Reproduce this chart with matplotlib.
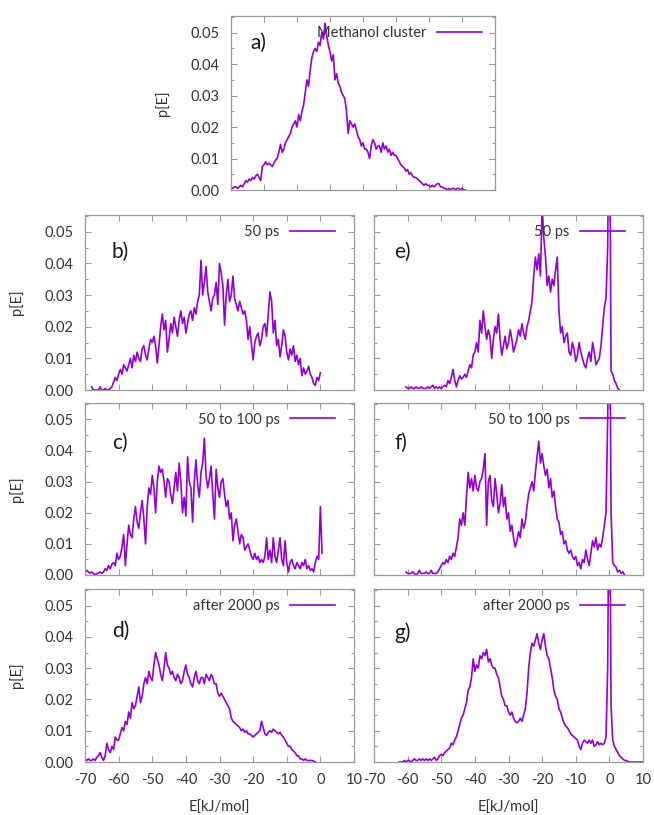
import numpy as np
import matplotlib
matplotlib.use("Agg")
import matplotlib.pyplot as plt
from matplotlib.ticker import MultipleLocator, FormatStrFormatter

plt.rcParams['font.family'] = ['Lato', 'DejaVu Sans']
plt.rcParams['axes.unicode_minus'] = False

# ---------------- data (p[E] in units of 1e-3, grid step 0.5 kJ/mol) ----------------
x_step = 0.5
x_limits = (-70, 10)
y_limits = (0, 0.0553)

labels = ["a)", "b)", "c)", "d)", "e)", "f)", "g)"]
legend_texts = ["Methanol cluster", "50 ps", "50 to 100 ps", "after 2000 ps",
                "50 ps", "50 to 100 ps", "after 2000 ps"]

start_a = -70.0
p_a = [1, 0.5, 1, 1, 0.5, 1, 1.5, 1, 2, 3,
       2.5, 3.5, 3, 4, 3.5, 4.5, 5, 4, 3, 7.5,
       8, 9, 8, 8.5, 8, 7.5, 8.5, 9.5, 10, 12,
       14.5, 12, 13, 15, 16, 17, 18, 20, 21, 22,
       20, 24, 22, 25, 27, 31, 35, 33, 38, 42,
       44, 45, 44, 47, 46, 50, 48, 53, 49, 46,
       44, 41, 43, 35, 37, 34, 33, 31, 30, 29,
       25, 18, 22, 21, 20, 21, 19, 17, 16, 14,
       15, 13, 13, 12, 10, 14, 16, 15, 13, 14,
       14, 12, 15, 13, 14, 12, 13, 11, 12, 11,
       11, 10, 9, 8, 7.5, 7, 6, 6.5, 5, 5.5,
       4.5, 4, 4, 3.5, 3, 2.5, 2, 1.5, 2, 1.5,
       1.5, 1, 1.5, 1, 1.5, 2, 2, 1, 1, 0.5,
       0.5, 0, 0.5, 0, 0.5, 0.5, 0, 0.5, 0.5, 0,
       0.5, 0, 0]

start_b = -68.0
p_b = [1, 0, 0, 0, 0, 1, 0, 0, 0.5, 0,
       0, 0.5, 1, 2.5, 4, 3, 5, 6.5, 5, 8,
       7, 6, 8, 10, 7, 11, 9, 12, 10, 9,
       13, 14, 11, 9.5, 13, 16, 15, 17, 14, 8.5,
       14, 20, 24, 19, 22, 12, 16, 21, 18, 23,
       20, 17, 22, 25, 21, 23, 18, 21, 24, 25,
       22, 26, 24, 28, 30, 41, 30, 34, 39, 31,
       28, 25, 29, 30, 34, 27, 40, 37, 33, 20.5,
       30, 35, 28, 30, 36, 29, 27, 25, 28, 26,
       24, 25, 22, 16, 20, 14.5, 9.5, 15, 17, 18,
       14, 16, 20, 21, 17, 24, 31, 28, 18, 22,
       14, 16, 10.5, 14, 19, 17, 12, 9.5, 13, 11,
       14, 9, 11, 8, 10, 4.5, 7, 5, 6, 7.5,
       5, 4, 2, 1.5, 4, 3, 5.5]

start_c = -70.0
p_c = [1, 1.5, 1, 0.5, 1, 0.5, 0, 0.5, 0.5, 1,
       0.5, 1, 2, 1.5, 3, 2, 3.5, 4, 3, 7,
       5, 6, 9, 13, 3, 10, 16, 13, 12, 18,
       22, 17, 15, 20, 24, 18, 10, 22, 28, 26,
       32, 28, 20, 30, 35, 33, 34, 30, 25, 31,
       30, 26, 23, 28, 33, 27, 36, 30, 20, 25,
       19, 38, 30, 28, 17, 30, 37, 29, 25, 33,
       36, 44, 32, 28, 31, 35, 26, 18, 34, 28,
       25, 30, 31, 26, 22, 24, 18, 20, 11, 16,
       18, 14, 10, 13, 12, 8, 9, 10, 8, 6,
       5, 7, 5, 6, 4, 5, 4, 6, 12, 5,
       8, 4, 12, 6, 4, 8, 12, 5, 3, 11,
       4, 1, 4, 5, 3, 2, 4, 3, 2, 4,
       3, 5, 2, 3, 1.5, 2, 1, 4, 6, 5,
       22, 7]

start_d = -70.0
p_d = [1, 0.5, 1, 0.5, 0.5, 1, 0.5, 1.5, 2, 3,
       1.5, 0.5, 2, 6, 4, 3, 5, 4, 8, 7,
       7, 9, 11, 10, 13, 12, 16, 14, 19, 17,
       18, 21, 24, 19, 21, 25, 27, 25, 29, 27,
       26, 31, 35, 33, 31, 28, 26, 30, 35, 31,
       30, 28, 29, 27, 26, 28, 27, 25, 26, 29,
       31, 28, 27, 25, 24, 27, 29, 26, 25, 27,
       27, 25, 28, 27, 26, 28, 27, 25, 25, 22,
       21, 22, 21, 20, 19, 18, 17, 14, 13, 12.5,
       12, 11.5, 11, 10, 10.5, 9.5, 10, 9, 9, 8.5,
       8, 8.5, 9, 9.5, 10, 13, 11, 9, 8.5, 9.5,
       10, 9.5, 10.5, 10, 9.5, 9, 9.5, 8.5, 8, 7,
       6, 5, 5, 4, 3.5, 3, 2, 2, 1, 1,
       0.5, 1, 0.5, 0.5, 0.5, 0.5, 0.3, 0]

start_e = -60.5
p_e = [1, 0.5, 0.5, 1, 0.5, 0.5, 1, 0.5, 0.5, 1,
       0.5, 0.5, 0.5, 1, 0.5, 1, 1.5, 0.5, 1, 0.5,
       1, 0.5, 1, 1.5, 1, 3, 2, 4, 6.5, 3,
       1, 3, 4.5, 3.5, 4, 5, 4, 6, 8, 7,
       11, 12, 15, 12, 22, 18, 25, 20, 16, 19,
       17, 10, 16, 20, 18, 24, 16, 11, 14, 17,
       13, 15, 19, 16, 12, 14, 16, 19, 17, 21,
       18, 16, 20, 22, 25, 28, 36, 42, 38, 43,
       36, 58, 48, 42, 33, 36, 31, 35, 33, 38,
       42, 25, 18, 20, 15, 17, 18, 12, 11, 15,
       13, 9, 11, 15, 12, 10, 8, 7, 10, 12,
       9, 15, 12, 8, 9, 10, 14, 20, 26, 29,
       45, 110, 6, 5, 3, 2, 0.5, 0]

start_f = -60.5
p_f = [1, 0.5, 0.5, 0.5, 1, 0.5, 0, 0.5, 1.5, 0.5,
       0.5, 0.5, 1, 0.5, 0.5, 1.5, 0.5, 0.5, 0.5, 1,
       2, 3, 4, 3.5, 5, 4, 6, 5, 7, 6,
       9, 12, 18, 16, 20, 16, 25, 33, 28, 31,
       27, 32, 28, 27, 30, 31, 34, 39, 16, 30,
       32, 24, 22, 31, 26, 20, 23, 29, 22, 25,
       18, 20, 14, 16, 12, 9, 11, 14, 12, 18,
       15, 17, 22, 26, 28, 30, 27, 33, 38, 43,
       36, 39, 35, 32, 34, 28, 31, 25, 27, 22,
       18, 17, 13, 14, 10, 11, 8, 7, 8, 6,
       5, 6, 3, 4, 2, 5, 4, 8, 5, 3,
       7, 11, 9, 12, 8, 10, 9, 12, 16, 20,
       50, 110, 20, 4, 3, 2.5, 1, 1.5, 0.5, 1, 0]

start_g = -62.5
p_g = [0, 0, 0, 0.5, 0, 0.5, 0.5, 0, 0.5, 1,
       0.5, 0.5, 1, 0.5, 1, 0.5, 1, 0.5, 1, 0.5,
       1, 1.5, 0.5, 1, 2, 2.5, 2, 3, 3.5, 4,
       4.5, 6, 5.5, 7, 8, 10, 12, 14, 15, 17,
       19, 23, 24, 27, 33, 29, 31, 30, 34, 33,
       35, 34, 36, 32, 33, 31, 30, 30, 28, 27,
       24, 21, 20, 18, 18, 16, 15, 16, 14, 13,
       12.5, 13, 14, 13, 15, 17, 22, 30, 35, 38,
       37, 39, 41, 38, 36, 39, 41, 37, 34, 33,
       30, 27, 23, 21, 20, 17, 16, 14, 12.5, 11.5,
       11, 10, 9, 8.5, 8, 7.5, 7, 5, 4, 6,
       7, 6.5, 6, 7, 6, 7, 5, 5.5, 6.5, 5.5,
       6, 5.5, 6, 8, 30, 110, 18, 7, 5, 4,
       3, 2, 1.5, 1, 0.5, 0.5, 0.2, 0, 0, 0,
       0, 0, 0, 0, 0, 0]

series = [(start_a, p_a), (start_b, p_b), (start_c, p_c), (start_d, p_d),
          (start_e, p_e), (start_f, p_f), (start_g, p_g)]

# ---------------- layout ----------------
W, H = 654, 815
fig = plt.figure(figsize=(W / 100, H / 100), dpi=100)

# panel frames in pixels: left, top, right, bottom
frames = [(231, 16, 495, 190),
          (85, 215, 354, 390), (85, 403, 354, 575), (85, 589, 354, 762),
          (374, 215, 643, 390), (374, 403, 643, 575), (374, 589, 643, 762)]
label_y = [0.845, 0.79, 0.77, 0.76, 0.79, 0.77, 0.745]
legend_gap = [13, 19, 19, 19, 18, 18, 18]

line_color = "#9400D3"
spine_color = "#9a9a9a"
text_color = "#333333"
fs = 10.5

for i, ((l, t, r, b), (x0, p)) in enumerate(zip(frames, series)):
    w_px, h_px = r - l, b - t
    ax = fig.add_axes([l / W, 1 - b / H, w_px / W, h_px / H])
    y = np.array(p) * 1e-3
    x = x0 + x_step * np.arange(len(y))
    ax.plot(x, y, color=line_color, lw=1.2, label=legend_texts[i])
    ax.set_xlim(*x_limits)
    ax.set_ylim(*y_limits)
    ax.xaxis.set_major_locator(MultipleLocator(10))
    ax.yaxis.set_major_locator(MultipleLocator(0.01))
    ax.yaxis.set_minor_locator(MultipleLocator(0.005))
    ax.yaxis.set_major_formatter(FormatStrFormatter('%.2f'))
    ax.tick_params(which='both', direction='in', top=True, right=True,
                   color=spine_color, width=0.8, labelcolor=text_color,
                   labelsize=fs, pad=8)
    ax.tick_params(which='major', length=4)
    ax.tick_params(which='minor', length=2.5)
    for s in ax.spines.values():
        s.set_color(spine_color)
        s.set_linewidth(0.9)

    left_col = i in (0, 1, 2, 3)
    bottom_row = i in (3, 6)
    ax.tick_params(labelbottom=bottom_row, labelleft=left_col)
    if left_col:
        ax.set_ylabel("p[E]", fontsize=fs, color=text_color)
        ax.yaxis.set_label_coords(-61 / w_px, 0.5)
    if bottom_row:
        ax.set_xlabel("E[kJ/mol]", fontsize=fs, color=text_color)
        ax.xaxis.set_label_coords(0.5, -39 / h_px)

    ax.text(0.075 if i in (0, 4, 5, 6) else 0.1, label_y[i], labels[i],
            transform=ax.transAxes, fontsize=15, color="#1a1a1a",
            ha='left', va='center')

    ax.legend(loc='center right', bbox_to_anchor=(1 - legend_gap[i] / w_px, 0.904),
              frameon=False, markerfirst=False, handlelength=3.1,
              handletextpad=0.7, borderpad=0, borderaxespad=0,
              fontsize=fs, labelcolor=text_color)

fig.savefig("out.png", dpi=100)
